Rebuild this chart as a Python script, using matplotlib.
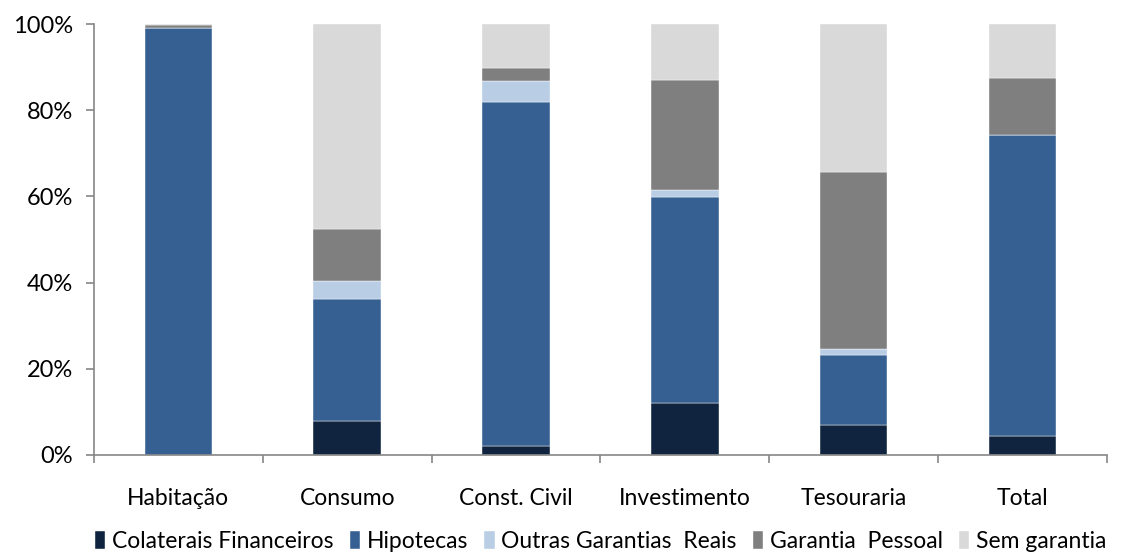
import numpy as np
import matplotlib
matplotlib.use('Agg')
import matplotlib.pyplot as plt
from matplotlib.ticker import PercentFormatter

plt.rcParams['font.family'] = ['Lato', 'DejaVu Sans']

# Dados (% por tipo de garantia)
categorias = ['Habitação', 'Consumo', 'Const. Civil', 'Investimento', 'Tesouraria', 'Total']
colaterais = [0.0, 8.0, 2.0, 12.1, 7.0, 4.3]
hipotecas = [99.1, 28.2, 79.9, 47.7, 16.3, 69.9]
outras_reais = [0.1, 4.2, 4.8, 1.8, 1.3, 0.1]
garantia_pessoal = [0.5, 12.0, 3.1, 25.4, 41.1, 13.2]
sem_garantia = [0.3, 47.6, 10.2, 13.0, 34.3, 12.5]

series = [
    ('Colaterais Financeiros', colaterais, '#10243F'),
    ('Hipotecas', hipotecas, '#376092'),
    ('Outras Garantias  Reais', outras_reais, '#B9CDE5'),
    ('Garantia  Pessoal', garantia_pessoal, '#7F7F7F'),
    ('Sem garantia', sem_garantia, '#D9D9D9'),
]

fig = plt.figure(figsize=(11.23, 5.56), dpi=100)
ax = fig.add_axes([0.0837, 0.1817, 0.902, 0.775])

x = np.arange(len(categorias))
base = np.zeros(len(categorias))
for nome, valores, cor in series:
    ax.bar(x, valores, width=0.4, bottom=base, color=cor, label=nome,
           edgecolor='white', linewidth=0.3)
    base += np.array(valores)

ax.set_xlim(-0.5, len(categorias) - 0.5)
ax.set_ylim(0, 100)
ax.set_yticks(np.arange(0, 101, 20))
ax.yaxis.set_major_formatter(PercentFormatter(decimals=0))

# ticks do eixo x nas fronteiras entre categorias
ax.set_xticks(np.arange(-0.5, len(categorias), 1.0))
ax.set_xticklabels([])
ax.set_xticks(x, minor=True)
ax.set_xticklabels(categorias, minor=True)
ax.tick_params(axis='x', which='minor', length=0, pad=24, labelsize=16.5)
ax.tick_params(axis='x', which='major', length=6, direction='out', color='#868686', width=1.2)
ax.tick_params(axis='y', length=6, direction='out', color='#868686', width=1.2, labelsize=17, pad=9)

for lado in ['top', 'right']:
    ax.spines[lado].set_visible(False)
for lado in ['left', 'bottom']:
    ax.spines[lado].set_color('#868686')
    ax.spines[lado].set_linewidth(1.2)

fig.legend(loc='lower center', bbox_to_anchor=(0.535, -0.03), ncol=5, frameon=False,
           fontsize=16.5, handlelength=0.45, handleheight=0.8, handletextpad=0.3,
           columnspacing=0.7)

fig.savefig('out.png', dpi=100)
